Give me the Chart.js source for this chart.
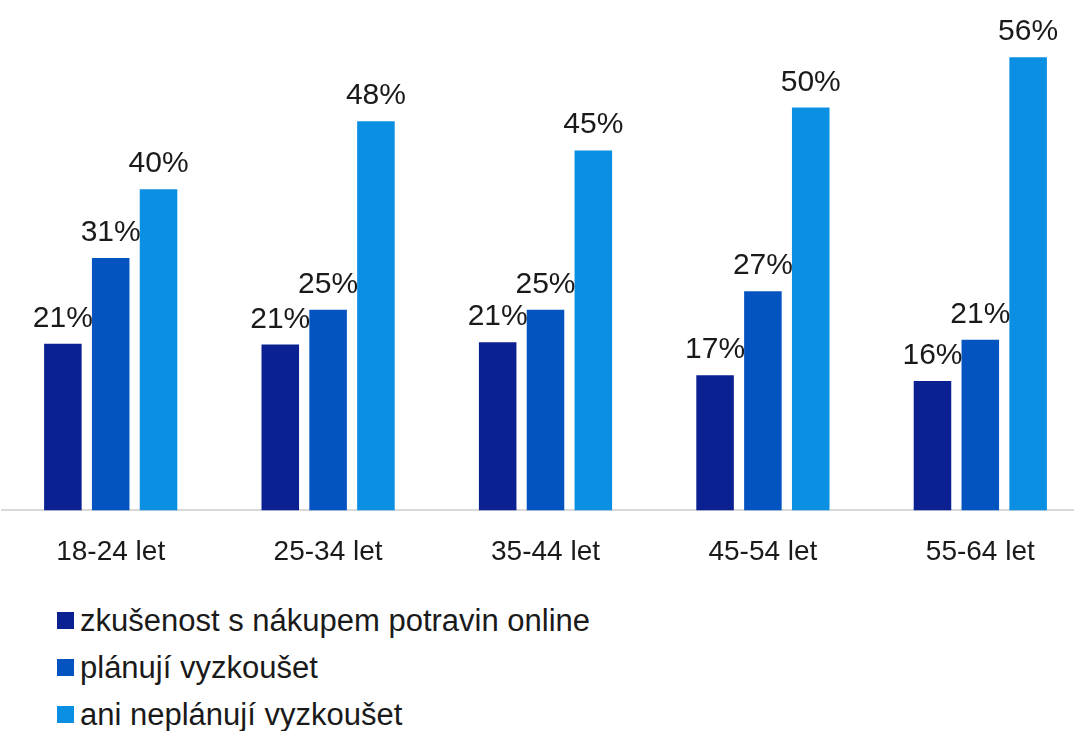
<!DOCTYPE html>
<html lang="cs">
<head>
<meta charset="utf-8">
<script src="https://cdn.jsdelivr.net/npm/chart.js@4/dist/chart.umd.min.js"></script>
<style>
  html, body { margin: 0; padding: 0; background: #fff; overflow: hidden; }
  #wrap { position: absolute; left: 0; top: 0; width: 1089px; height: 594px; }
  #legend { position: absolute; left: 57px; top: 597px; font-family: "Liberation Sans", Arial, sans-serif; font-size: 31px; color: #1a1a1a; }
  .leg-item { display: flex; align-items: center; height: 47px; }
  .leg-box { width: 17px; height: 17px; margin-right: 6px; }
</style>
</head>
<body>
<div id="wrap"><canvas id="chart"></canvas></div>
<div id="legend"></div>
<script>
const categories = ['18-24 let', '25-34 let', '35-44 let', '45-54 let', '55-64 let'];
const seriesNames = ['zkušenost s nákupem potravin online', 'plánují vyzkoušet', 'ani neplánují vyzkoušet'];
const experience = [20.6, 20.5, 20.8, 16.7, 16.0];
const planning = [31.2, 24.8, 24.8, 27.1, 21.1];
const notPlanning = [39.7, 48.1, 44.5, 49.8, 56.0];
const colors = ['#0c2191', '#0353c1', '#0a8fe2'];

const fontFamily = '"Liberation Sans", Arial, sans-serif';

// draws the % above each bar
const valueLabels = {
  id: 'valueLabels',
  afterDatasetsDraw(chart) {
    const ctx = chart.ctx;
    ctx.save();
    ctx.font = `30px ${fontFamily}`;
    ctx.fillStyle = '#1a1a1a';
    ctx.textAlign = 'center';
    ctx.textBaseline = 'alphabetic';
    chart.data.datasets.forEach((ds, i) => {
      chart.getDatasetMeta(i).data.forEach((bar, j) => {
        ctx.fillText(Math.round(ds.data[j]) + '%', bar.x, bar.y - 17);
      });
    });
    ctx.restore();
  }
};

const chart = new Chart(document.getElementById('chart'), {
  type: 'bar',
  data: {
    labels: categories,
    datasets: [experience, planning, notPlanning].map((data, i) => ({
      label: seriesNames[i],
      data,
      backgroundColor: colors[i],
      categoryPercentage: 0.66,
      barPercentage: 0.785,
    })),
  },
  options: {
    responsive: true,
    maintainAspectRatio: false,
    animation: false,
    layout: { padding: { top: 25, left: 2, right: 0, bottom: 0 } },
    plugins: {
      legend: { display: false },
      tooltip: { enabled: false },
    },
    scales: {
      x: {
        grid: { display: false, drawTicks: false },
        border: { color: '#d9d9d9', width: 2 },
        ticks: { color: '#1a1a1a', padding: 25, font: { family: fontFamily, size: 28 } },
      },
      y: { display: false, min: 0, max: 60 },
    },
  },
  plugins: [valueLabels],
});

document.getElementById('legend').innerHTML = chart.data.datasets.map(ds => `
  <div class="leg-item"><span class="leg-box" style="background:${ds.backgroundColor}"></span>${ds.label}</div>
`).join('');
</script>
</body>
</html>
